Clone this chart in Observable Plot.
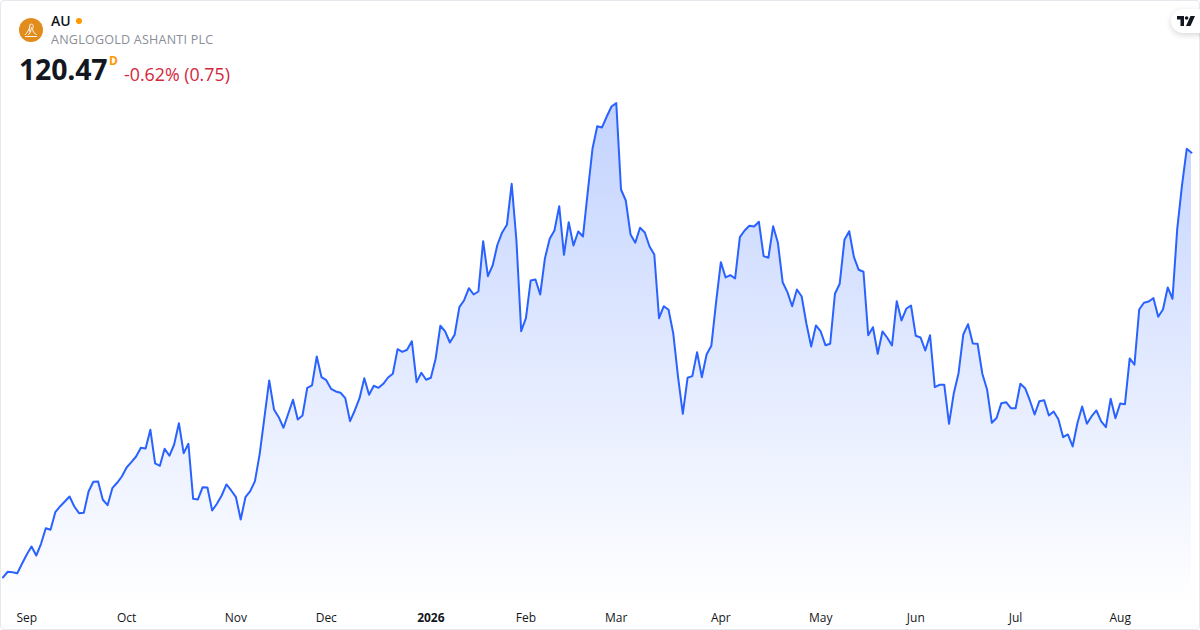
<!DOCTYPE html>
<html>
<head>
<meta charset="utf-8">
<script src="https://cdn.jsdelivr.net/npm/d3@7"></script>
<script src="https://cdn.jsdelivr.net/npm/@observablehq/plot@0.6"></script>
<style>
html,body{margin:0;padding:0;background:#fff;}
body{width:1200px;height:630px;position:relative;overflow:hidden;font-family:"Open Sans",sans-serif;}
#chart{position:absolute;left:0;top:0;}
#chart svg{display:block;background:transparent;}
#card{position:absolute;left:0;top:0;width:1198px;height:628px;border:1px solid #e6e8ee;border-radius:4px;pointer-events:none;}
.t{position:absolute;white-space:nowrap;line-height:1;}
#sym{left:51px;top:14px;font-size:14px;font-weight:600;color:#131722;}
#dot{position:absolute;left:76px;top:18px;width:6px;height:6px;border-radius:50%;background:#ff9800;}
#name{left:51px;top:34px;font-size:12.5px;color:#8a8e97;letter-spacing:.25px;}
#price{left:19px;top:54.5px;font-size:28.5px;font-weight:700;color:#131722;letter-spacing:-.2px;}
#d{left:109px;top:55px;font-size:12px;font-weight:700;color:#ff9800;}
#chg{left:124px;top:66px;font-size:17.8px;color:#d3273c;}
#logo{position:absolute;left:19px;top:18px;}
#tv{position:absolute;left:1171px;top:9px;width:40px;height:24px;border-radius:12px;background:#fff;box-shadow:0 2px 6px rgba(0,0,0,.16);}
#tv svg{position:absolute;left:6px;top:7px;}
</style>
</head>
<body>
<div id="chart"></div>
<div id="card"></div>
<svg id="logo" width="24" height="24" viewBox="0 0 24 24"><circle cx="12" cy="12" r="12" fill="#e28c1e"/><path d="M11 6.5c2-1 3.5 0 3.2 2l-.7 3 1.3 3.2 2.7 1.8M11 6.5l-.7 4-2.5 4.5-2 2M10.5 10.5l.5 4 -1.500 2.500M12.500 9l-1 5.500M6 18.500h12" fill="none" stroke="#fff" stroke-width=".9"/></svg>
<div class="t" id="sym">AU</div><div id="dot"></div>
<div class="t" id="name">ANGLOGOLD ASHANTI PLC</div>
<div class="t" id="price">120.47</div>
<div class="t" id="d">D</div>
<div class="t" id="chg">-0.62% (0.75)</div>
<div id="tv"><svg width="18" height="10" viewBox="0 0 18 10"><path d="M0 0h7v10H3.5V3.500H0z" fill="#131722"/><circle cx="9.600" cy="2" r="1.800" fill="#131722"/><path d="M13.500 0H18l-4.500 10H9z" fill="#131722"/></svg></div>
<script>
const prices = [
49.67,50.62,50.55,50.38,51.95,53.5,54.83,53.33,55.28,57.88,
57.62,60.55,61.5,62.33,63.17,61.5,60.38,60.45,64,65.62,
65.67,62.62,61.72,64.55,65.45,66.5,68,68.88,69.83,71.28,
71.17,74.28,68.67,68.28,71.12,69.95,71.83,75.38,70.38,71.95,
62.78,62.67,64.72,64.67,60.83,61.95,63.33,65.17,64.17,63.05,
59.33,63.05,64.05,65.72,70.28,76.38,82.5,77.67,76.38,74.62,
76.95,79.28,76,76.67,81.28,81.67,86.5,83.05,82.55,81.12,
80.67,80.45,79.55,75.72,77.5,79.55,82.88,80.12,81.62,81.28,
81.95,83,83.62,87.72,87.28,87.62,89.05,82.22,83.78,82.62,
82.95,86.12,91.62,90.67,88.83,90.12,94.72,95.88,97.88,96.83,
97.33,105.72,99.88,101.67,105.12,107.17,108.45,115.28,105.83,90.72,
92.88,99.17,99.33,96.83,102.88,106.12,107.5,111.55,103.45,108.88,
105,107.33,106.5,113.88,121.12,124.88,124.67,126.5,128.17,128.72,
114.33,112.5,106.83,105.45,107.95,107.17,104.83,103.5,92.88,94.88,
94.28,90.28,83.05,76.95,82.95,83.22,87.22,83.05,86.83,88.28,
95.55,102.22,99.67,100.05,99.5,106.38,107.5,108.28,108.17,108.95,
103.22,102.95,108.22,105.45,98.88,97.22,94.88,97.67,96.5,91.95,
88.17,91.67,90.67,88.38,88.62,96.95,98.62,105.95,107.38,103.05,
100.95,100.62,90.05,91.38,86.95,90.67,89.62,88.33,95.72,92.5,
94.45,95,89.95,89.67,87.5,90.05,81.38,81.78,81.78,75.28,
80.38,83.72,90.17,91.88,88.67,88.62,83.62,81,75.45,76.25,
78.72,78.88,77.88,77.88,81.95,81.22,79.17,76.83,79.05,79.22,
76.67,77.33,76.05,73.05,73.5,71.5,75.38,78.17,75.28,76.55,
77.5,75.67,74.72,79.45,76.22,78.67,78.55,86.17,85.12,94.33,
95.45,95.67,96.22,93.12,94.33,98,96.12,107.78,115,121.12,
120.47];
const monthLabels = ["Sep","Oct","Nov","Dec","Feb","Mar","Apr","May","Jun","Jul","Aug"];
const monthBars   = [5,26,49,68,110,129,151,172,192,213,235];
const yearLabels = ["2026"];
const yearBars   = [90];
const baselinePrice = 41;

const rows = prices.map((p,i)=>({i,p}));
const labelOf = new Map([...monthBars.map((b,k)=>[b,monthLabels[k]]),...yearBars.map((b,k)=>[b,yearLabels[k]])]);
const tickFmt = b=>labelOf.get(b);

const gradient = () => {
  const s = d3.create("svg:linearGradient").attr("id","areaFill")
    .attr("gradientUnits","userSpaceOnUse").attr("x1",0).attr("x2",0).attr("y1",102).attr("y2",606);
  s.append("stop").attr("offset","0%").attr("stop-color","#2962ff").attr("stop-opacity",0.28);
  s.append("stop").attr("offset","100%").attr("stop-color","#2962ff").attr("stop-opacity",0);
  return s.node();
};

const chart = Plot.plot({
  width:1200,height:630,
  marginTop:0,marginLeft:0,marginRight:0,marginBottom:20,
  style:{fontFamily:'"Open Sans",sans-serif',background:"transparent",overflow:"visible"},
  x:{type:"linear",domain:[0,250],range:[2.5,1191]},
  y:{type:"linear",domain:[40.83,145.83],range:[630,0]},
  marks:[
    gradient,
    Plot.areaY(rows,{x:"i",y1:()=>baselinePrice,y2:"p",fill:"url(#areaFill)"}),
    Plot.lineY(rows,{x:"i",y:"p",stroke:"#2962ff",strokeWidth:2}),
    Plot.axisX({ticks:monthBars,tickFormat:tickFmt,tickSize:0,tickPadding:3,label:null,fontSize:12,fill:"#131722"}),
    Plot.axisX({ticks:yearBars,tickFormat:tickFmt,tickSize:0,tickPadding:3,label:null,fontSize:12,fontWeight:700,fill:"#131722"}),
    Plot.axisY({ticks:[],label:null})
  ]
});
document.getElementById("chart").appendChild(chart);
</script>
</body>
</html>
